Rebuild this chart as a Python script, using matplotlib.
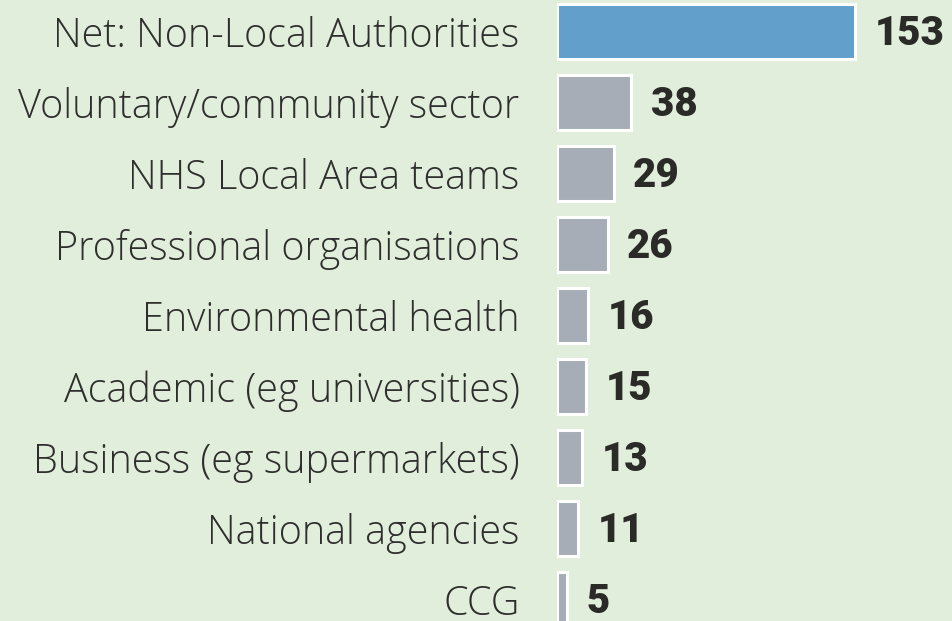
import matplotlib.pyplot as plt

# data
categories = ["Net: Non-Local Authorities", "Voluntary/community sector",
              "NHS Local Area teams", "Professional organisations",
              "Environmental health", "Academic (eg universities)",
              "Business (eg supermarkets)", "National agencies", "CCG"]
counts = [153, 38, 29, 26, 16, 15, 13, 11, 5]
highlight = [True, False, False, False, False, False, False, False, False]

bg = "#e1eedc"
blue = "#62a0cb"
grey = "#a6adb7"
ink = "#2a2a26"

W, H = 952, 621
fig = plt.figure(figsize=(W / 100, H / 100), dpi=100)
fig.patch.set_facecolor(bg)

x0 = 557  # pixel position of the zero line
px_per_unit = 1.95
row = 71.0
first = 31.5

ax = fig.add_axes([x0 / W, 0, 1 - x0 / W, 1])
ax.set_facecolor(bg)
ax.set_xlim(0, (W - x0) / px_per_unit)
ax.set_ylim((H - first) / row, -first / row)

ys = list(range(len(categories)))
cols = [blue if h else grey for h in highlight]
ax.barh(ys, counts, height=0.77, color=cols, edgecolor="white", linewidth=2.2)

for y, v in zip(ys, counts):
    ax.annotate(str(v), (v, y + 0.03), xytext=(14, 0), textcoords="offset points",
                va="center", ha="left", fontsize=29, fontweight="black",
                family="Roboto", color=ink)

ax.set_yticks(ys)
ax.set_yticklabels(categories, fontsize=28.5, family="Open Sans", fontweight="light",
                   color="#2e2e2c")
ax.tick_params(axis="y", length=0, pad=27)
ax.set_xticks([])
for s in ax.spines.values():
    s.set_visible(False)

fig.savefig("out.png", dpi=100, facecolor=bg)
